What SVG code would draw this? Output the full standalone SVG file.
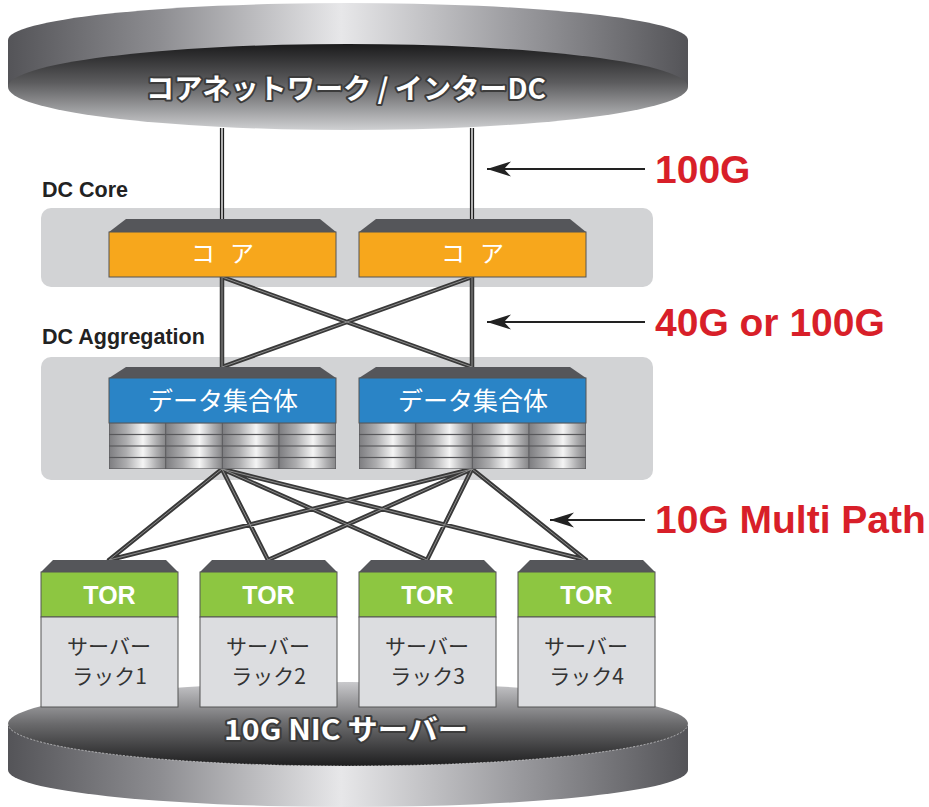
<svg xmlns="http://www.w3.org/2000/svg" xmlns:xlink="http://www.w3.org/1999/xlink" width="929" height="807" viewBox="0 0 929 807">
<style>
  .panel { fill: #d2d3d5; }
  .lid { fill: #55565a; }
  .core { fill: #f7a71c; stroke: #555; stroke-width: 1; }
  .agg { fill: #2a84c6; stroke: #555; stroke-width: 1; }
  .tor { fill: #8dc641; stroke: #555; stroke-width: 1; }
  .rack { fill: #dcdde0; stroke: #555; stroke-width: 1; }
  .bay { fill: url(#bayGrad); }
  .jp { font-family: "Noto Sans CJK JP", "Noto Sans", sans-serif; }
  .boxlabel { fill: #fff; text-anchor: middle; }
  .racklabel { fill: #333; text-anchor: middle; font-size: 21px; }
  .tortext { font-family: "Liberation Sans", Arial, sans-serif; font-weight: bold; font-size: 25px; fill: #fff; text-anchor: middle; }
  .layer { font-family: "Liberation Sans", Arial, sans-serif; font-weight: bold; font-size: 21.5px; fill: #222; }
  .speed { font-family: "Liberation Sans", Arial, sans-serif; font-weight: bold; font-size: 39px; fill: #d81f29; }
  .outlined { font-family: "Noto Sans CJK JP", "Noto Sans", sans-serif; font-weight: 700; fill: #fff; stroke: #3c3c3c; stroke-width: 4; stroke-linejoin: round; paint-order: stroke; text-anchor: middle; }
  .cable { fill: none; stroke: #393939; stroke-width: 4.5; stroke-linecap: round; }
  .cablehi { fill: none; stroke: #8c8c8c; stroke-width: 1; }
  .uplink { fill: none; stroke: #1e1e1e; stroke-width: 4.2; }
  .uplinkhi { fill: none; stroke: #fff; stroke-width: 1.3; }
  .arrow { stroke: #222; stroke-width: 2; fill: none; }
</style>
<defs>
  <linearGradient id="sideGrad" gradientUnits="userSpaceOnUse" x1="8" y1="0" x2="688" y2="0">
    <stop offset="0" stop-color="#545458"/>
    <stop offset="0.22" stop-color="#8c8c90"/>
    <stop offset="0.49" stop-color="#e7e7e9"/>
    <stop offset="0.75" stop-color="#9a9a9e"/>
    <stop offset="1" stop-color="#545458"/>
  </linearGradient>
  <linearGradient id="topUnder" gradientUnits="userSpaceOnUse" x1="0" y1="44" x2="0" y2="130">
    <stop offset="0" stop-color="#1b1b1c"/>
    <stop offset="0.45" stop-color="#5c5c5e"/>
    <stop offset="1" stop-color="#cfd0d2"/>
  </linearGradient>
  <linearGradient id="botFace" gradientUnits="userSpaceOnUse" x1="0" y1="682" x2="0" y2="766">
    <stop offset="0" stop-color="#c9c9cc"/>
    <stop offset="0.5" stop-color="#6a6a6c"/>
    <stop offset="1" stop-color="#1e1e1f"/>
  </linearGradient>
  <linearGradient id="bayGrad" x1="0" y1="0" x2="1" y2="0">
    <stop offset="0" stop-color="#7e7e81"/>
    <stop offset="0.3" stop-color="#adadaf"/>
    <stop offset="0.6" stop-color="#f5f5f5"/>
    <stop offset="0.85" stop-color="#acacae"/>
    <stop offset="1" stop-color="#88888a"/>
  </linearGradient>
  <marker id="arr" markerUnits="userSpaceOnUse" markerWidth="26" markerHeight="18" viewBox="0 -9 26 18" refX="24" refY="0" orient="auto">
    <path d="M0,-7.5 L24,0 L0,7.5 L7,0 Z" fill="#222"/>
  </marker>
  <g id="bays">
    <rect x="0" y="0" width="227" height="46" fill="#58585b"/>
    <rect class="bay" x="0.6" y="0.6" width="55.6" height="10.3"/>
    <rect class="bay" x="57.2" y="0.6" width="55.6" height="10.3"/>
    <rect class="bay" x="113.8" y="0.6" width="55.6" height="10.3"/>
    <rect class="bay" x="170.4" y="0.6" width="56" height="10.3"/>
    <rect class="bay" x="0.6" y="12.1" width="55.6" height="10.3"/>
    <rect class="bay" x="57.2" y="12.1" width="55.6" height="10.3"/>
    <rect class="bay" x="113.8" y="12.1" width="55.6" height="10.3"/>
    <rect class="bay" x="170.4" y="12.1" width="56" height="10.3"/>
    <rect class="bay" x="0.6" y="23.6" width="55.6" height="10.3"/>
    <rect class="bay" x="57.2" y="23.6" width="55.6" height="10.3"/>
    <rect class="bay" x="113.8" y="23.6" width="55.6" height="10.3"/>
    <rect class="bay" x="170.4" y="23.6" width="56" height="10.3"/>
    <rect class="bay" x="0.6" y="35.1" width="55.6" height="10.3"/>
    <rect class="bay" x="57.2" y="35.1" width="55.6" height="10.3"/>
    <rect class="bay" x="113.8" y="35.1" width="55.6" height="10.3"/>
    <rect class="bay" x="170.4" y="35.1" width="56" height="10.3"/>
  </g>
  <path id="cables" d="M222,277 L222,367 M222,277 L472,367 M472,277 L222,367 M472,277 L472,367 M222,469 L109,560 M222,469 L268,560 M222,469 L427,560 M222,469 L586,560 M472,469 L109,560 M472,469 L268,560 M472,469 L427,560 M472,469 L586,560"/>
</defs>

<!-- Top disk: core network / inter-DC -->
<g id="core-network">
  <path d="M8,40 A340,37 0 0 1 688,40 L688,87 L8,87 Z" fill="url(#sideGrad)"/>
  <ellipse cx="348" cy="87" rx="340" ry="43" fill="url(#topUnder)"/>
  <text class="outlined" x="346" y="99" font-size="28" textLength="400" lengthAdjust="spacingAndGlyphs">コアネットワーク / インターDC</text>
</g>

<!-- Bottom disk: 10G NIC servers -->
<g id="servers">
  <path d="M8,724 L8,770 A340,37 0 0 0 688,770 L688,724 Z" fill="url(#sideGrad)"/>
  <ellipse cx="348" cy="724" rx="340" ry="42" fill="url(#botFace)"/>
  <path d="M8,724 A340,42 0 0 0 688,724" fill="none" stroke="#e4e4e6" stroke-width="0.8" stroke-dasharray="2 1.5" opacity="0.8"/>
  <text class="outlined" x="346" y="740" font-size="28" textLength="244" lengthAdjust="spacingAndGlyphs">10G NIC サーバー</text>
</g>

<!-- Layer panels -->
<g id="dc-core-layer">
  <rect class="panel" x="41" y="208" width="612" height="79" rx="10"/>
  <text class="layer" x="42" y="197">DC Core</text>
</g>
<g id="dc-aggregation-layer">
  <rect class="panel" x="41" y="357" width="612" height="123" rx="10"/>
  <text class="layer" x="42" y="344">DC Aggregation</text>
</g>

<!-- Connectors -->
<g id="connectors">
  <line class="uplink" x1="222" y1="128" x2="222" y2="219"/>
  <line class="uplinkhi" x1="222" y1="128" x2="222" y2="219"/>
  <line class="uplink" x1="472" y1="128" x2="472" y2="219"/>
  <line class="uplinkhi" x1="472" y1="128" x2="472" y2="219"/>
  <use xlink:href="#cables" href="#cables" class="cable"/>
  <use xlink:href="#cables" href="#cables" class="cablehi"/>
</g>

<!-- Core switches -->
<g id="core1">
  <path class="lid" d="M109,232 L126,219 L320,219 L336,232 Z"/>
  <rect class="core" x="109" y="232" width="227" height="45"/>
  <text class="jp boxlabel" x="222.5" y="262" font-size="24" textLength="63" lengthAdjust="spacing">コ ア</text>
</g>
<g id="core2">
  <path class="lid" d="M359,232 L376,219 L570,219 L586,232 Z"/>
  <rect class="core" x="359" y="232" width="227" height="45"/>
  <text class="jp boxlabel" x="472.5" y="262" font-size="24" textLength="63" lengthAdjust="spacing">コ ア</text>
</g>

<!-- Aggregation switches -->
<g id="agg1">
  <path class="lid" d="M109,378 L126,367 L320,367 L336,378 Z"/>
  <rect class="agg" x="109" y="378" width="227" height="45"/>
  <use xlink:href="#bays" href="#bays" x="109" y="423"/>
  <text class="jp boxlabel" x="223" y="410" font-size="25">データ集合体</text>
</g>
<g id="agg2">
  <path class="lid" d="M359,378 L376,367 L570,367 L586,378 Z"/>
  <rect class="agg" x="359" y="378" width="227" height="45"/>
  <use xlink:href="#bays" href="#bays" x="359" y="423"/>
  <text class="jp boxlabel" x="473" y="410" font-size="25">データ集合体</text>
</g>

<!-- TOR switches with server racks -->
<g id="tor1">
  <path class="lid" d="M41,572 L53,560 L166,560 L178,572 Z"/>
  <rect class="tor" x="41" y="572" width="137" height="45"/>
  <rect class="rack" x="41" y="617" width="137" height="90"/>
  <text class="tortext" x="109.5" y="604">TOR</text>
  <text class="jp racklabel" x="109" y="654">サーバー</text>
  <text class="jp racklabel" x="109.5" y="684">ラック1</text>
</g>
<g id="tor2">
  <path class="lid" d="M200,572 L212,560 L325,560 L337,572 Z"/>
  <rect class="tor" x="200" y="572" width="137" height="45"/>
  <rect class="rack" x="200" y="617" width="137" height="90"/>
  <text class="tortext" x="268.5" y="604">TOR</text>
  <text class="jp racklabel" x="268" y="654">サーバー</text>
  <text class="jp racklabel" x="268.5" y="684">ラック2</text>
</g>
<g id="tor3">
  <path class="lid" d="M359,572 L371,560 L484,560 L496,572 Z"/>
  <rect class="tor" x="359" y="572" width="137" height="45"/>
  <rect class="rack" x="359" y="617" width="137" height="90"/>
  <text class="tortext" x="427.5" y="604">TOR</text>
  <text class="jp racklabel" x="427" y="654">サーバー</text>
  <text class="jp racklabel" x="427.5" y="684">ラック3</text>
</g>
<g id="tor4">
  <path class="lid" d="M518,572 L530,560 L643,560 L655,572 Z"/>
  <rect class="tor" x="518" y="572" width="137" height="45"/>
  <rect class="rack" x="518" y="617" width="137" height="90"/>
  <text class="tortext" x="586.5" y="604">TOR</text>
  <text class="jp racklabel" x="586" y="654">サーバー</text>
  <text class="jp racklabel" x="586.5" y="684">ラック4</text>
</g>

<!-- Link speed annotations -->
<g id="annotations">
  <line class="arrow" x1="645" y1="169" x2="487" y2="169" marker-end="url(#arr)"/>
  <text class="speed" x="655" y="183">100G</text>
  <line class="arrow" x1="645" y1="322" x2="487" y2="322" marker-end="url(#arr)"/>
  <text class="speed" x="655" y="336">40G or 100G</text>
  <line class="arrow" x1="645" y1="520" x2="550" y2="520" marker-end="url(#arr)"/>
  <text class="speed" x="655" y="533">10G Multi Path</text>
</g>
</svg>
